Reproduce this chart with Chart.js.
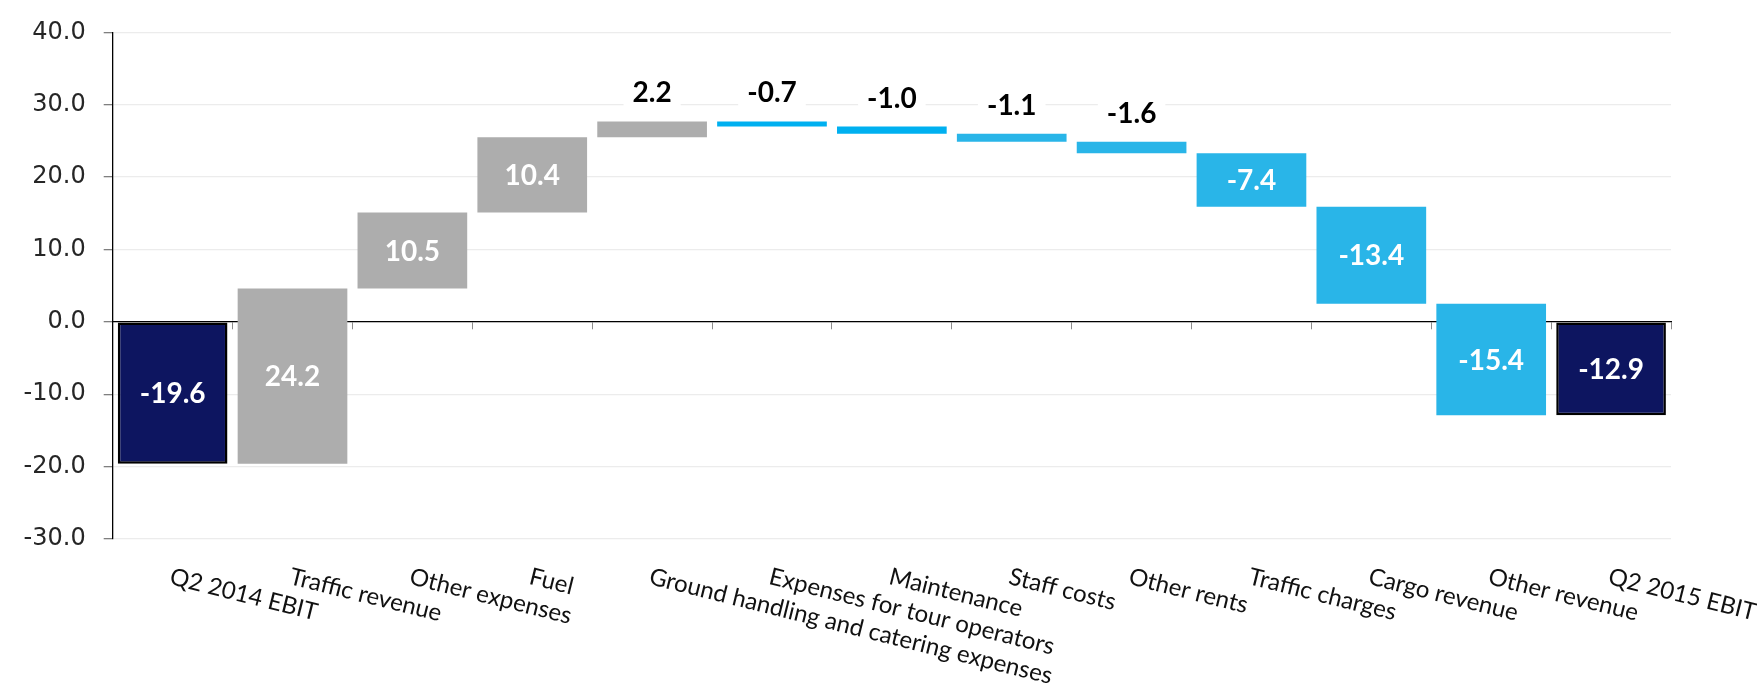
<!DOCTYPE html>
<html>
<head>
<meta charset="utf-8">
<title>EBIT bridge Q2 2014 - Q2 2015</title>
<script src="https://cdn.jsdelivr.net/npm/chart.js@4.4.1/dist/chart.umd.min.js"></script>
<style>
  html, body { margin: 0; padding: 0; background: #fff; }
  canvas { display: block; }
</style>
</head>
<body>
<canvas id="bridge" width="1757" height="694"></canvas>
<script>
// categories on the x axis
const categories = [
    'Q2 2014 EBIT', 'Traffic revenue', 'Other expenses', 'Fuel',
    'Ground handling and catering expenses', 'Expenses for tour operators',
    'Maintenance', 'Staff costs', 'Other rents', 'Traffic charges',
    'Cargo revenue', 'Other revenue', 'Q2 2015 EBIT'
];
// number printed on each bar (totals are levels, the rest are changes)
const barValues = [-19.6, 24.2, 10.5, 10.4, 2.2, -0.7, -1.0, -1.1, -1.6, -7.4, -13.4, -15.4, -12.9];
// 'total' bars stand on zero, 'step' bars carry on from the previous level
const barKinds = ['total', 'step', 'step', 'step', 'step', 'step', 'step',
                  'step', 'step', 'step', 'step', 'step', 'total'];
// y axis ticks
const yTicks = [-30, -20, -10, 0, 10, 20, 30, 40];

// fill colour for each bar
const barColors = ['#0D1560', '#ADADAD', '#ADADAD', '#ADADAD', '#ADADAD', '#00B0F0', '#00B0F0',
                   '#29B5E8', '#29B5E8', '#29B5E8', '#29B5E8', '#29B5E8', '#0D1560'];

// floating bars [start, end] for the waterfall
let level = 0;
const ranges = barValues.map((v, i) => {
    if (barKinds[i] === 'total') {
        level = v;
        return [0, v];
    }
    const start = level;
    level = Math.round((level + v) * 10) / 10;
    return [start, level];
});

// numbers on / above the bars
const valueLabels = {
    id: 'valueLabels',
    afterDatasetsDraw(chart) {
        const ctx = chart.ctx;
        const meta = chart.getDatasetMeta(0);
        ctx.save();
        ctx.font = 'bold 28px Lato';
        ctx.textAlign = 'center';
        ctx.textBaseline = 'middle';
        meta.data.forEach((bar, i) => {
            const text = barValues[i].toFixed(1);
            const top = Math.min(bar.y, bar.base);
            const bottom = Math.max(bar.y, bar.base);
            if (bottom - top > 30) {
                ctx.fillStyle = '#ffffff';
                ctx.fillText(text, bar.x, (top + bottom) / 2 + 1);
            } else {
                // small steps: label sits above the bar on a white patch
                const y = top - 29;
                const w = ctx.measureText(text).width + 18;
                ctx.fillStyle = '#ffffff';
                ctx.fillRect(bar.x - w / 2, y - 16, w, 32);
                ctx.fillStyle = '#000000';
                ctx.fillText(text, bar.x, y + 1);
            }
        });
        ctx.restore();
    }
};

// slanted category names under the plot
const slantedLabels = {
    id: 'slantedLabels',
    afterDraw(chart) {
        const ctx = chart.ctx;
        const xScale = chart.scales.x;
        const size = 24;
        ctx.save();
        ctx.font = size + 'px Lato';
        ctx.fillStyle = '#111111';
        ctx.textAlign = 'left';
        ctx.textBaseline = 'alphabetic';
        categories.forEach((name, i) => {
            ctx.save();
            ctx.translate(xScale.getPixelForValue(i), chart.chartArea.bottom + 28);
            ctx.rotate(14 * Math.PI / 180);
            ctx.fillText(name, 0, size * 0.72);
            ctx.restore();
        });
        ctx.restore();
    }
};

function drawChart() {
    const ctx = document.getElementById('bridge').getContext('2d');
    new Chart(ctx, {
        type: 'bar',
        data: {
            labels: categories,
            datasets: [{
                data: ranges,
                backgroundColor: barColors,
                borderColor: barKinds.map(k => k === 'total' ? '#000000' : 'rgba(0,0,0,0)'),
                borderWidth: barKinds.map(k => k === 'total' ? 2.5 : 0),
                borderSkipped: false,
                barPercentage: 0.915,
                categoryPercentage: 1
            }]
        },
        options: {
            responsive: false,
            animation: false,
            devicePixelRatio: 1,
            layout: {
                padding: { left: 0, right: 86, top: 24, bottom: 155 }
            },
            plugins: {
                legend: { display: false },
                tooltip: { enabled: false }
            },
            scales: {
                x: {
                    position: { y: 0 },
                    z: 1,
                    border: { display: true, color: '#000000', width: 1.3 },
                    grid: {
                        drawOnChartArea: false,
                        tickLength: 7,
                        tickColor: '#8c8c8c',
                        offset: true
                    },
                    ticks: { display: false }
                },
                y: {
                    min: yTicks[0],
                    max: yTicks[yTicks.length - 1],
                    afterFit: (scale) => { scale.width = 112.7; },
                    afterBuildTicks: (scale) => {
                        scale.ticks = yTicks.map(v => ({ value: v }));
                    },
                    border: { display: true, color: '#000000', width: 1.3 },
                    grid: {
                        color: '#ECECEC',
                        lineWidth: 1.3,
                        tickLength: 9,
                        tickColor: '#7f7f7f'
                    },
                    ticks: {
                        padding: 18,
                        color: '#262626',
                        font: { family: 'DejaVu Sans', size: 24 },
                        callback: (v) => Number(v).toFixed(1)
                    }
                }
            }
        },
        plugins: [valueLabels, slantedLabels]
    });
}

Promise.all([
    document.fonts.load('24px Lato'),
    document.fonts.load('bold 28px Lato'),
    document.fonts.load('24px "DejaVu Sans"')
]).then(drawChart, drawChart);
</script>
</body>
</html>
